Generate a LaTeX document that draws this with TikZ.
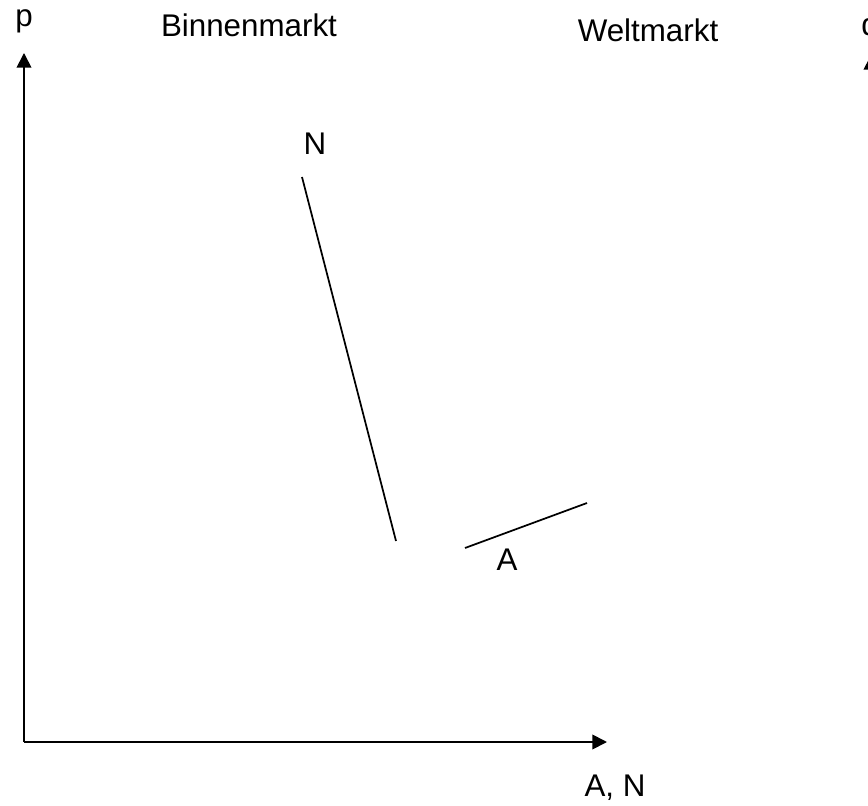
\documentclass[tikz,border=0pt]{standalone}
\usepackage{fontspec}
\setmainfont{Liberation Sans}
\usetikzlibrary{arrows.meta}
\begin{document}
\begin{tikzpicture}[x=0.75pt,y=-0.75pt,font=\fontsize{23.5}{28}\selectfont,line width=1.3pt,
  axis/.style={-{Triangle[length=11pt,width=11pt]}},lbl/.style={inner sep=0pt,anchor=base}]
\clip (0,0) rectangle (868,806);
\coordinate (origin) at (24,742);
\coordinate (ptop) at (24,53);
\coordinate (xend) at (607,742);
\coordinate (qbot) at (871,742);
\coordinate (qtop) at (871,55);
\draw[axis] (origin)--(ptop);
\draw[axis] (origin)--(xend);
\draw[axis] (qbot)--(qtop);
\node[lbl] (p) at (24,27) {p};
\node[lbl] (q) at (870,36) {q};
\node[lbl] (binnen) at (249,37) {Binnenmarkt};
\node[lbl] (welt) at (648,42) {Weltmarkt};
\node[lbl] (an) at (615,796) {A, N};
% Nachfrage und Angebot
\coordinate (ntop) at (302,177);
\coordinate (nbot) at (396,541);
\coordinate (aleft) at (465,548);
\coordinate (aright) at (587,503);
\draw (ntop)--(nbot);
\draw (aleft)--(aright);
\node[lbl] (nlab) at (315,155) {N};
\node[lbl] (alab) at (507,570) {A};
\end{tikzpicture}
\end{document}
